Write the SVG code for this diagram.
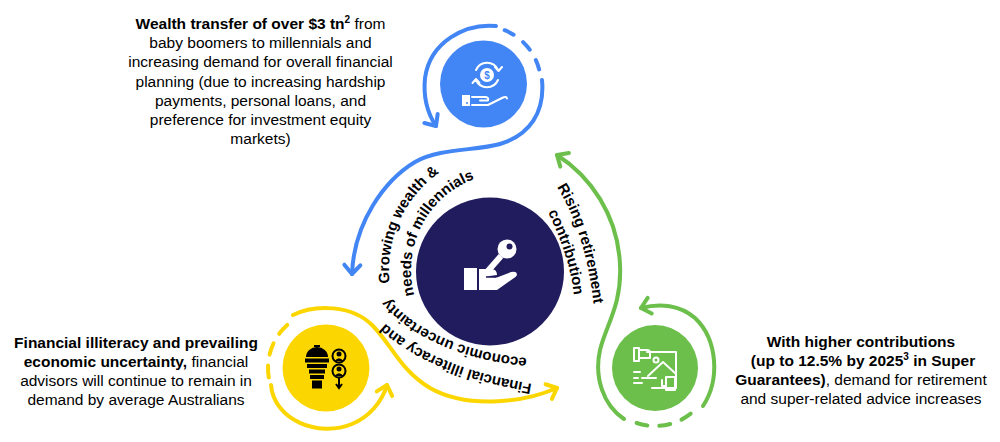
<svg xmlns="http://www.w3.org/2000/svg" width="1000" height="442" viewBox="0 0 1000 442">
<style>
.t{font-family:"Liberation Sans",Arial,sans-serif;font-size:15.5px;fill:#000;text-anchor:middle}
.b{font-weight:bold}
.ct{font-family:"Liberation Sans",Arial,sans-serif;font-size:15px;font-weight:bold;fill:#000}
.ln{fill:none;stroke-width:4;stroke-linecap:round;stroke-linejoin:round}
.bl{stroke:#4285F4}.yl{stroke:#FCD600}.gr{stroke:#6BBF4A}
.iw{fill:none;stroke:#fff;stroke-width:2;stroke-linecap:round;stroke-linejoin:round}
</style>
<defs>
<marker id="ab" markerUnits="userSpaceOnUse" viewBox="-14 -11 18 22" markerWidth="18" markerHeight="22" refX="0" refY="0" orient="auto">
<path d="M-9 -8 L0 0 L-9 8" fill="none" stroke="#4285F4" stroke-width="4" stroke-linecap="round" stroke-linejoin="round"/>
</marker>
<marker id="ay" markerUnits="userSpaceOnUse" viewBox="-14 -11 18 22" markerWidth="18" markerHeight="22" refX="0" refY="0" orient="auto">
<path d="M-9 -8 L0 0 L-9 8" fill="none" stroke="#FCD600" stroke-width="4" stroke-linecap="round" stroke-linejoin="round"/>
</marker>
<marker id="ag" markerUnits="userSpaceOnUse" viewBox="-14 -11 18 22" markerWidth="18" markerHeight="22" refX="0" refY="0" orient="auto">
<path d="M-9 -8 L0 0 L-9 8" fill="none" stroke="#6BBF4A" stroke-width="4" stroke-linecap="round" stroke-linejoin="round"/>
</marker>
<path id="plo" d="M389.7 283 A119 119 0 0 1 487.3 152.8"/>
<path id="pli" d="M414.3 295.1 A97 97 0 0 1 516.5 173.4"/>
<path id="pro" d="M557 187 C579.3 222.6 588.9 264.3 594 306 L597 329"/>
<path id="pri" d="M548 212 C560.7 239.2 571.4 267.1 574 297 L576 320"/>
<path id="pbo" d="M532 384 C476.8 374.3 415.5 356.6 377 315 L361 297"/>
<path id="pbi" d="M527 358 C477.2 353.6 420.1 336.3 388 298 L374 281"/>
</defs>

<g id="connectors">
<path class="ln bl" d="M496 26 C465 23 430 42 425 78 C423 98 428 114 436 126" marker-end="url(#ab)"/>
<path class="ln bl" d="M504.7 30.2 A58 58 0 0 1 539.3 70" stroke-dasharray="10 12"/>
<path class="ln bl" d="M542 80 C545 112 530 135 500 144 C475 151 440 148 415 162 C385 180 354 222 352 274" marker-end="url(#ab)"/>
<path class="ln yl" d="M287.2 324.9 A58 58 0 0 0 268.9 378.1" stroke-dasharray="12 11"/>
<path class="ln yl" d="M271 385 C274 420 318 438 352 424 C369 417 382 402 387 385" marker-end="url(#ay)"/>
<path class="ln yl" d="M293 315 C315 304 352 305 372 325 C392 345 400 370 430 388 C465 408 520 404 557 388" marker-end="url(#ay)"/>
<path class="ln gr" d="M703 406 C720 380 718 340 695 318 C680 305 660 303 641 308" marker-end="url(#ag)"/>
<path class="ln gr" d="M690.7 413.7 A58 58 0 0 1 635.2 422.5" stroke-dasharray="11 12"/>
<path class="ln gr" d="M624 419 C603 405 594 377 600 350 C606 325 622 305 620 265 C618 215 590 176 557 155" marker-end="url(#ag)"/>
</g>

<g id="arc-labels">
<text class="ct"><textPath href="#plo">Growing wealth &amp;</textPath></text>
<text class="ct"><textPath href="#pli">needs of millennials</textPath></text>
<text class="ct"><textPath href="#pro">Rising retirement</textPath></text>
<text class="ct"><textPath href="#pri">contribution</textPath></text>
<text class="ct"><textPath href="#pbo">Financial illiteracy and</textPath></text>
<text class="ct"><textPath href="#pbi">economic uncertainty</textPath></text>
</g>

<g id="node-center">
<circle cx="490" cy="271.5" r="74" fill="#201C5E"/>
<circle cx="507" cy="249" r="9.5" fill="#fff"/>
<circle cx="509.5" cy="246.5" r="3" fill="#201C5E"/>
<path d="M501 256 L487 272" stroke="#fff" stroke-width="6"/>
<rect x="464" y="268" width="13" height="22" fill="#fff"/>
<path d="M479 269 H491 Q497 269 497 275 L486 276.5 L497 277.5 L511 272 Q517 270.5 517 275 Q516 277 514 278 L497 290 H479 Z" fill="#fff"/>
<path d="M486 277 H496" stroke="#201C5E" stroke-width="1.5"/>
</g>

<g id="node-top">
<circle cx="483.5" cy="84" r="43.5" fill="#4285F4"/>
<circle cx="487" cy="75" r="7" fill="#fff"/>
<text x="487" y="79" font-family="Liberation Sans, Arial, sans-serif" font-size="10" font-weight="bold" fill="#4285F4" text-anchor="middle">$</text>
<path class="iw" stroke-width="1.8" d="M476 70 A12 12 0 0 1 498 70 M495 67 L498.5 71 L502 67 M498 80 A12 12 0 0 1 476 80 M472.5 83 L476 79 L479.5 83"/>
<rect x="462" y="95" width="8" height="11" fill="#fff"/>
<circle cx="467" cy="103" r="1" fill="#4285F4"/>
<path class="iw" stroke-width="2.2" d="M472 97 H485 Q489 97 488 100.5 H480 M472 105 H488 L503 97.5 Q506.5 96 507 98.5"/>
</g>

<g id="node-left">
<circle cx="326" cy="368" r="43.5" fill="#FCD600"/>
<path d="M306 357 A11 10 0 0 1 328 357 Z" fill="#000"/>
<path d="M314 347 h6 v-2 h-6 z" fill="#000"/>
<rect x="305" y="358.5" width="24" height="4" fill="#000"/>
<rect x="307" y="364" width="20" height="4" fill="#000"/>
<rect x="309" y="369.5" width="16" height="4" fill="#000"/>
<rect x="310" y="375" width="14" height="4" fill="#000"/>
<rect x="312" y="380.5" width="10" height="8" fill="#000"/>
<circle cx="339" cy="356" r="6.5" fill="none" stroke="#000" stroke-width="2"/>
<circle cx="339" cy="354" r="2.5" fill="#000"/>
<path d="M334.5 361 Q339 355.5 343.5 361 Z" fill="#000"/>
<circle cx="339" cy="371" r="6.5" fill="none" stroke="#000" stroke-width="2"/>
<circle cx="339" cy="369" r="2.5" fill="#000"/>
<path d="M334.5 376 Q339 370.5 343.5 376 Z" fill="#000"/>
<path d="M339 378 V387 M336 384 L339 388 L342 384" fill="none" stroke="#000" stroke-width="2"/>
</g>

<g id="node-right">
<circle cx="655" cy="368" r="43" fill="#6BBF4A"/>
<path class="iw" stroke-width="1.8" d="M647 352 H676 V388 H652"/>
<path class="iw" stroke-width="1.8" d="M634 348 h5 v13 h-5 z M639 350 h8 q3 0 3 3 v5 h-11"/>
<circle cx="656" cy="360" r="2.5" class="iw" stroke-width="1.6"/>
<path class="iw" stroke-width="1.8" d="M648 376 L663 362 L676 374"/>
<path class="iw" stroke-width="1.8" d="M634 372 h6 M634 378 h4 M642 378 h14 M634 383 h8"/>
<path class="iw" stroke-width="1.8" d="M666 377 h9 v13 h-9 z M662 380 v6 h4"/>
</g>

<g id="text-top">
<text class="t" x="260.5" y="29"><tspan class="b">Wealth transfer of over $3 tn</tspan><tspan class="b" font-size="10" dy="-6">2</tspan><tspan dy="6"> from</tspan></text>
<text class="t" x="260.5" y="48.2">baby boomers to millennials and</text>
<text class="t" x="260.5" y="67.4">increasing demand for overall financial</text>
<text class="t" x="260.5" y="86.6">planning (due to increasing hardship</text>
<text class="t" x="260.5" y="105.8">payments, personal loans, and</text>
<text class="t" x="260.5" y="125">preference for investment equity</text>
<text class="t" x="260.5" y="144.2">markets)</text>
</g>

<g id="text-left">
<text class="t b" x="136" y="348">Financial illiteracy and prevailing</text>
<text class="t" x="136" y="367"><tspan class="b">economic uncertainty,</tspan> financial</text>
<text class="t" x="136" y="386">advisors will continue to remain in</text>
<text class="t" x="136" y="405">demand by average Australians</text>
</g>

<g id="text-right">
<text class="t b" x="861" y="347">With higher contributions</text>
<text class="t b" x="863" y="366">(up to 12.5% by 2025<tspan font-size="10" dy="-6">3</tspan><tspan dy="6"> in Super</tspan></text>
<text class="t" x="861" y="385"><tspan class="b">Guarantees)</tspan>, demand for retirement</text>
<text class="t" x="861" y="404">and super-related advice increases</text>
</g>
</svg>
